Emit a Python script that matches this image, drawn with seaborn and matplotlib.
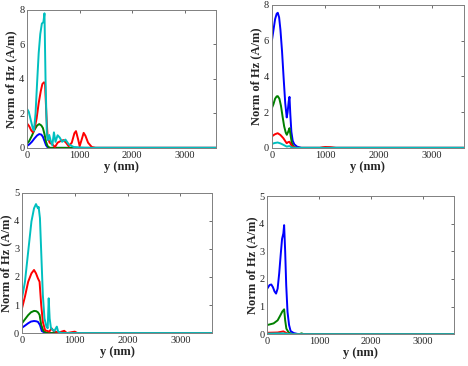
import numpy as np
import pandas as pd
import matplotlib
matplotlib.use("Agg")
import matplotlib.pyplot as plt
import seaborn as sns

# ---- data (y in nm, |Hz| in A/m) ----
# panel (a) top-left
a_blue_x = [0, 40, 90, 140, 190, 230, 270, 300, 330, 360, 390, 420, 3600]
a_blue_y = [0.12, 0.2, 0.35, 0.55, 0.72, 0.8, 0.77, 0.64, 0.4, 0.15, 0.03, 0.0, 0.0]
a_green_x = [0, 40, 90, 140, 190, 230, 270, 300, 330, 360, 390, 430, 3600]
a_green_y = [0.25, 0.4, 0.7, 1.05, 1.3, 1.38, 1.3, 1.15, 0.8, 0.35, 0.1, 0.0, 0.0]
a_red_x = [0, 40, 80, 110, 140, 180, 220, 260, 290, 320, 340, 365, 390, 430, 480, 530, 580,
           640, 690, 740, 790, 850, 900, 930, 970, 1000, 1040, 1076, 1110, 1160, 1230, 1300, 3600]
a_red_y = [1.41, 1.25, 1.0, 0.9, 1.1, 1.7, 2.6, 3.3, 3.7, 3.8, 3.75, 2.0, 0.6, 0.3, 0.2, 0.05, 0.3,
           0.4, 0.45, 0.3, 0.1, 0.3, 0.85, 0.97, 0.5, 0.1, 0.5, 0.87, 0.7, 0.3, 0.05, 0.0, 0.0]
a_cyan_x = [0, 30, 70, 110, 130, 160, 190, 220, 250, 280, 310, 330, 350, 375, 395, 420, 450,
            480, 510, 540, 580, 620, 666, 730, 793, 888, 1000, 1100, 3600]
a_cyan_y = [2.25, 2.1, 1.6, 1.1, 1.0, 2.0, 3.8, 5.5, 6.6, 7.2, 7.3, 7.8, 4.0, 0.8, 0.45, 0.75, 0.4,
            0.15, 0.9, 0.35, 0.73, 0.6, 0.35, 0.48, 0.2, 0.05, 0.02, 0.0, 0.0]

# panel (b) top-right
b_blue_x = [0, 30, 60, 90, 110, 135, 160, 190, 220, 250, 278, 295, 315, 330, 345, 365, 390,
            420, 470, 550, 3600]
b_blue_y = [6.0, 6.6, 7.2, 7.5, 7.55, 7.3, 6.6, 5.4, 3.9, 2.5, 1.7, 2.0, 2.6, 2.85, 1.9, 0.9, 0.4,
            0.2, 0.07, 0.0, 0.0]
b_green_x = [0, 30, 60, 90, 110, 140, 170, 200, 230, 260, 280, 305, 330, 350, 375, 405, 450, 3600]
b_green_y = [2.23, 2.45, 2.75, 2.88, 2.89, 2.75, 2.35, 1.75, 1.2, 0.85, 0.73, 0.9, 1.1, 0.7, 0.25,
             0.07, 0.0, 0.0]
b_red_x = [0, 50, 108, 160, 215, 250, 278, 305, 330, 355, 380, 450, 900, 950, 1000, 1100, 1200, 3600]
b_red_y = [0.64, 0.75, 0.82, 0.72, 0.54, 0.38, 0.26, 0.32, 0.34, 0.2, 0.08, 0.0, 0.0, 0.03, 0.05,
           0.04, 0.0, 0.0]
b_cyan_x = [0, 50, 108, 160, 215, 278, 330, 373, 450, 3600]
b_cyan_y = [0.22, 0.27, 0.3, 0.25, 0.17, 0.07, 0.1, 0.02, 0.0, 0.0]

# panel (c) bottom-left
c_blue_x = [0, 60, 117, 170, 228, 270, 302, 340, 376, 450, 3600]
c_blue_y = [0.19, 0.27, 0.35, 0.41, 0.43, 0.42, 0.4, 0.29, 0.07, 0.0, 0.0]
c_green_x = [0, 60, 117, 170, 228, 270, 302, 333, 364, 407, 480, 3600]
c_green_y = [0.35, 0.5, 0.64, 0.74, 0.79, 0.78, 0.74, 0.65, 0.29, 0.07, 0.0, 0.0]
c_red_x = [0, 56, 117, 179, 228, 265, 302, 333, 364, 395, 438, 518, 561, 599, 700, 800, 850,
           1000, 1050, 3600]
c_red_y = [0.88, 1.3, 1.83, 2.13, 2.25, 2.13, 1.95, 1.83, 1.0, 0.4, 0.1, 0.05, 0.17, 0.07, 0.02,
           0.08, 0.0, 0.05, 0.0, 0.0]
c_cyan_x = [0, 56, 117, 179, 228, 265, 302, 315, 340, 364, 395, 426, 463, 487, 506, 524, 549,
            611, 660, 685, 750, 3600]
c_cyan_y = [1.24, 1.83, 2.9, 3.98, 4.45, 4.6, 4.45, 4.5, 4.1, 2.9, 1.36, 0.52, 0.23, 0.17, 1.24,
            0.52, 0.17, 0.07, 0.23, 0.05, 0.0, 0.0]

# panel (d) bottom-right
d_blue_x = [0, 45, 78, 110, 140, 170, 200, 230, 260, 285, 310, 325, 345, 365, 390, 420, 450,
            510, 600, 3600]
d_blue_y = [1.65, 1.78, 1.8, 1.7, 1.55, 1.47, 1.65, 2.2, 2.9, 3.45, 3.65, 3.95, 3.0, 1.78, 0.81,
            0.33, 0.11, 0.04, 0.0, 0.0]
d_green_x = [0, 122, 200, 252, 290, 325, 345, 368, 413, 480, 620, 660, 700, 3600]
d_green_y = [0.33, 0.39, 0.5, 0.68, 0.82, 0.9, 0.5, 0.2, 0.06, 0.0, 0.0, 0.03, 0.0, 0.0]
d_red_x = [0, 200, 310, 380, 450, 3600]
d_red_y = [0.05, 0.06, 0.1, 0.03, 0.0, 0.0]
d_cyan_x = [0, 300, 450, 3600]
d_cyan_y = [0.02, 0.03, 0.0, 0.0]

panels = [
    (a_blue_x, a_blue_y, a_green_x, a_green_y, a_red_x, a_red_y, a_cyan_x, a_cyan_y),
    (b_blue_x, b_blue_y, b_green_x, b_green_y, b_red_x, b_red_y, b_cyan_x, b_cyan_y),
    (c_blue_x, c_blue_y, c_green_x, c_green_y, c_red_x, c_red_y, c_cyan_x, c_cyan_y),
    (d_blue_x, d_blue_y, d_green_x, d_green_y, d_red_x, d_red_y, d_cyan_x, d_cyan_y),
]
y_max = [8, 8, 5, 5]
y_ticks = [[0, 2, 4, 6, 8], [0, 2, 4, 6, 8], [0, 1, 2, 3, 4, 5], [0, 1, 2, 3, 4, 5]]
x_ticks = [0, 1000, 2000, 3000]
colors = ['#0000ff', '#008000', '#ff0000', '#00bfbf']
series_names = ['blue', 'green', 'red', 'cyan']

sns.set_theme(style="white")
plt.rcParams['font.family'] = ['Liberation Serif', 'DejaVu Serif']
plt.rcParams['xtick.direction'] = 'in'
plt.rcParams['ytick.direction'] = 'in'

fig = plt.figure(figsize=(4.68, 3.66), dpi=100)
# axes boxes (left, bottom, width, height) in figure fractions
boxes = [
    [0.058, 0.596, 0.404, 0.377],
    [0.581, 0.596, 0.410, 0.391],
    [0.047, 0.090, 0.406, 0.383],
    [0.571, 0.087, 0.400, 0.377],
]

for i, data in enumerate(panels):
    ax = fig.add_axes(boxes[i])
    for k in range(4):
        df = pd.DataFrame({'y': data[2 * k], 'H': data[2 * k + 1]})
        sns.lineplot(data=df, x='y', y='H', color=colors[k], linewidth=1.4,
                     ax=ax, label=series_names[k], legend=False, sort=False)
    ax.set_xlim(0, 3600)
    ax.set_ylim(0, y_max[i])
    ax.set_xticks(x_ticks)
    ax.set_yticks(y_ticks[i])
    ax.tick_params(axis='both', labelsize=7.5, colors='#555555', labelcolor='#262626',
                   length=2.5, width=0.6, top=True, right=True, pad=2)
    for sp in ax.spines.values():
        sp.set_color('#808080')
        sp.set_linewidth(0.7)
    ax.set_xlabel('y (nm)', fontsize=9, fontweight='bold', labelpad=1)
    ax.set_ylabel('Norm of Hz (A/m)', fontsize=9, fontweight='bold', labelpad=1)

fig.savefig('out.png', dpi=100)
